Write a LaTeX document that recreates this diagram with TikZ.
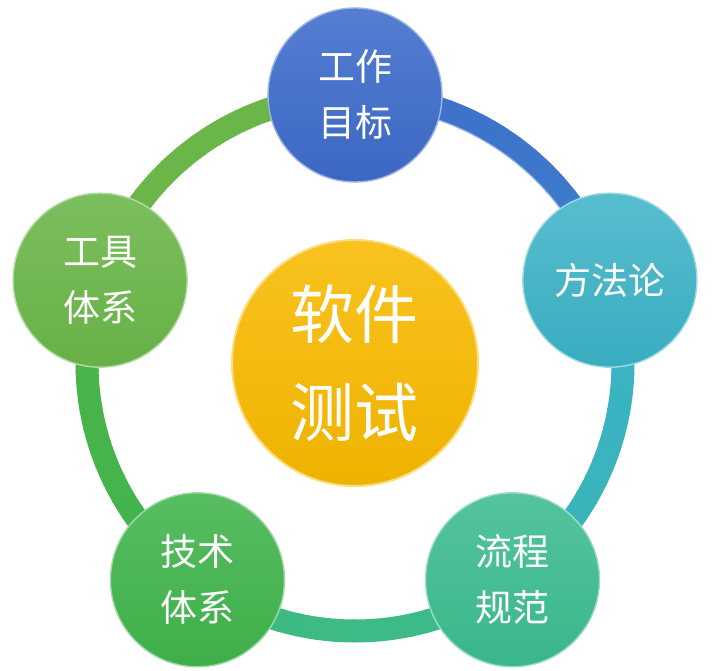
\documentclass[tikz,border=0pt]{standalone}
\usepackage{fontspec}
\usetikzlibrary{calc}
\newfontfamily\cjk{Noto Sans CJK SC}
\definecolor{goalblue}{RGB}{62,108,204}
\definecolor{methteal}{RGB}{58,178,198}
\definecolor{flowgreen}{RGB}{60,188,142}
\definecolor{techgreen}{RGB}{64,180,76}
\definecolor{toolgreen}{RGB}{106,182,72}
\definecolor{coregold}{RGB}{248,186,0}
\tikzset{
	ball/.style={circle,minimum size=174pt,inner sep=0pt,text=white,
		font=\cjk\fontsize{37}{56}\selectfont,align=center,line width=1.4pt},
	core/.style={circle,minimum size=246pt,inner sep=0pt,text=white,
		font=\cjk\fontsize{64}{98}\selectfont,align=center,line width=2pt}
}
\begin{document}
\begin{tikzpicture}[x=1pt,y=1pt]
	\useasboundingbox (-355,-308) rectangle (365,363);
	\coordinate (hub) at (0,0);
	% ring, one arc per pair of neighbours
	\foreach \a/\ca/\cb in {90/goalblue/methteal,18/methteal/flowgreen,
		-54/flowgreen/techgreen,-126/techgreen/toolgreen,-198/toolgreen/toolgreen}{
		\foreach \k in {0,...,17}{
			\pgfmathsetmacro\p{100-\k*1.6}
			\pgfmathsetmacro\t{\a-\k*4}
			\draw[line width=23pt,\ca!\p!\cb] ($(hub)+(\t:268)$) arc[start angle=\t,end angle=\t-4.4,radius=268];
		}
	}
	\draw[white!70!goalblue,line width=1pt,opacity=0.7] ($(hub)+(80:257)$) arc[start angle=80,end angle=28,radius=257];
	% the five balls
	\node[ball,shade,top color=goalblue!88!white,bottom color=goalblue!96!black,draw=goalblue!50!white] (goal) at ($(hub)+(90:268)$) {工作\\目标};
	\node[ball,shade,top color=methteal!85!white,bottom color=methteal!97!black,draw=methteal!50!white] (method) at ($(hub)+(18:268)$) {方法论};
	\node[ball,shade,top color=flowgreen!88!white,bottom color=flowgreen!97!black,draw=flowgreen!50!white] (flow) at ($(hub)+(-54:268)$) {流程\\规范};
	\node[ball,shade,top color=techgreen!88!white,bottom color=techgreen!97!black,draw=techgreen!50!white] (tech) at ($(hub)+(-126:268)$) {技术\\体系};
	\node[ball,shade,top color=toolgreen!88!white,bottom color=toolgreen!97!black,draw=toolgreen!50!white] (tool) at ($(hub)+(162:268)$) {工具\\体系};
	\node[core,shade,top color=coregold!88!white,bottom color=coregold!96!black,draw=coregold!50!white] (test) at (hub) {软件\\测试};
\end{tikzpicture}
\end{document}
